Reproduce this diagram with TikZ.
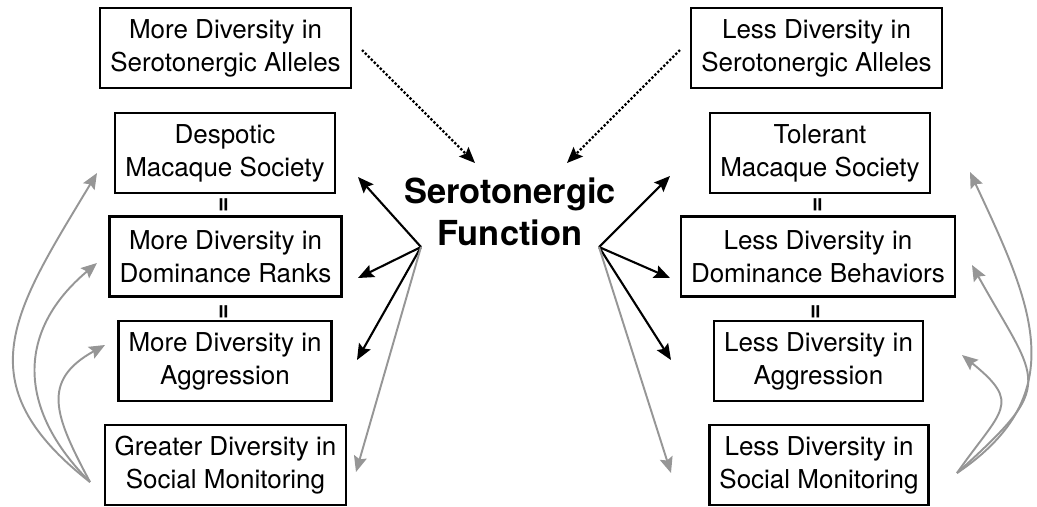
\documentclass[tikz,border=0pt]{standalone}
\usepackage{fontspec}
\setmainfont{TeX Gyre Heros}
\usepackage{tikz}
\usetikzlibrary{arrows.meta,positioning}

\definecolor{curvegray}{RGB}{150,150,150}

\begin{document}
\begin{tikzpicture}[box/.style={draw,line width=1.3pt,minimum height=1.6cm,inner xsep=0.2cm,align=center,font=\fontsize{14.8}{18.8}\selectfont},
eqsign/.style={rotate=90,inner sep=0pt,font=\bfseries\fontsize{15}{15}\selectfont},
blk/.style={-{Stealth[length=9pt,width=7.5pt,inset=1.5pt]},line width=1.2pt},
gry/.style={-{Stealth[length=9pt,width=7.5pt,inset=1.5pt]},line width=1.1pt,curvegray},
dots/.style={-{Stealth[length=9pt,width=7.5pt,inset=1.5pt]},line width=1.3pt,dash pattern=on 1.3pt off 1.1pt}]
\useasboundingbox (0,0) rectangle (20.74,-10.12);

% left column
\node[box] (l1) at (4.51,-0.96) {More Diversity in\\Serotonergic Alleles};
\node[box] (l2) at (4.50,-3.06) {Despotic\\Macaque Society};
\node[box] (l3) at (4.51,-5.13) {More Diversity in\\Dominance Ranks};
\node[box] (l4) at (4.50,-7.22) {More Diversity in\\Aggression};
\node[box] (l5) at (4.51,-9.30) {Greater Diversity in\\Social Monitoring};
\node[eqsign] (le1) at (4.50,-4.10) {=};
\node[eqsign] (le2) at (4.50,-6.24) {=};

% right column
\node[box] (r1) at (16.33,-0.96) {Less Diversity in\\Serotonergic Alleles};
\node[box] (r2) at (16.40,-3.06) {Tolerant\\Macaque Society};
\node[box] (r3) at (16.36,-5.13) {Less Diversity in\\Dominance Behaviors};
\node[box] (r4) at (16.37,-7.22) {Less Diversity in\\Aggression};
\node[box] (r5) at (16.38,-9.30) {Less Diversity in\\Social Monitoring};
\node[eqsign] (re1) at (16.38,-4.10) {=};
\node[eqsign] (re2) at (16.34,-6.24) {=};

% centre
\node[align=center,font=\bfseries\fontsize{19.6}{23.8}\selectfont] (sero) at (10.20,-4.24) {Serotonergic\\Function};

% arrow ends
\coordinate (lfork) at (8.42,-4.94);
\coordinate (rfork) at (11.98,-4.94);
\coordinate (ldot) at (7.24,-1.00);
\coordinate (rdot) at (13.60,-1.00);
\coordinate (ldottip) at (9.50,-3.26);
\coordinate (rdottip) at (11.34,-3.26);
\coordinate (lt2) at (7.16,-3.54);
\coordinate (lt3) at (7.16,-5.56);
\coordinate (lt4) at (7.14,-7.20);
\coordinate (lt5) at (7.12,-9.44);
\coordinate (rt2) at (13.40,-3.52);
\coordinate (rt3) at (13.40,-5.56);
\coordinate (rt4) at (13.42,-7.20);
\coordinate (rt5) at (13.42,-9.46);
\coordinate (lc0) at (1.80,-9.64);
\coordinate (lc2) at (1.94,-3.46);
\coordinate (lc3) at (1.94,-5.26);
\coordinate (lc4) at (2.10,-6.90);
\coordinate (rc0) at (19.14,-9.46);
\coordinate (rc2) at (19.40,-3.44);
\coordinate (rc3) at (19.44,-5.30);
\coordinate (rc4) at (19.24,-7.10);

\draw[dots] (ldot) -- (ldottip);
\draw[dots] (rdot) -- (rdottip);

\draw[blk] (lfork) -- (lt2);
\draw[blk] (lfork) -- (lt3);
\draw[blk] (lfork) -- (lt4);
\draw[gry] (lfork) -- (lt5);
\draw[blk] (rfork) -- (rt2);
\draw[blk] (rfork) -- (rt3);
\draw[blk] (rfork) -- (rt4);
\draw[gry] (rfork) -- (rt5);

\draw[gry] (lc0) to[out=142,in=239,looseness=1.33] (lc2);
\draw[gry] (lc0) to[out=135,in=220,looseness=1.22] (lc3);
\draw[gry] (lc0) to[out=118,in=209,looseness=1.38] (lc4);
\draw[gry] (rc0) to[out=34,in=295,looseness=1.21] (rc2);
\draw[gry] (rc0) to[out=42,in=299,looseness=1.68] (rc3);
\draw[gry] (rc0) to[out=55,in=321,looseness=1.69] (rc4);

\end{tikzpicture}
\end{document}
